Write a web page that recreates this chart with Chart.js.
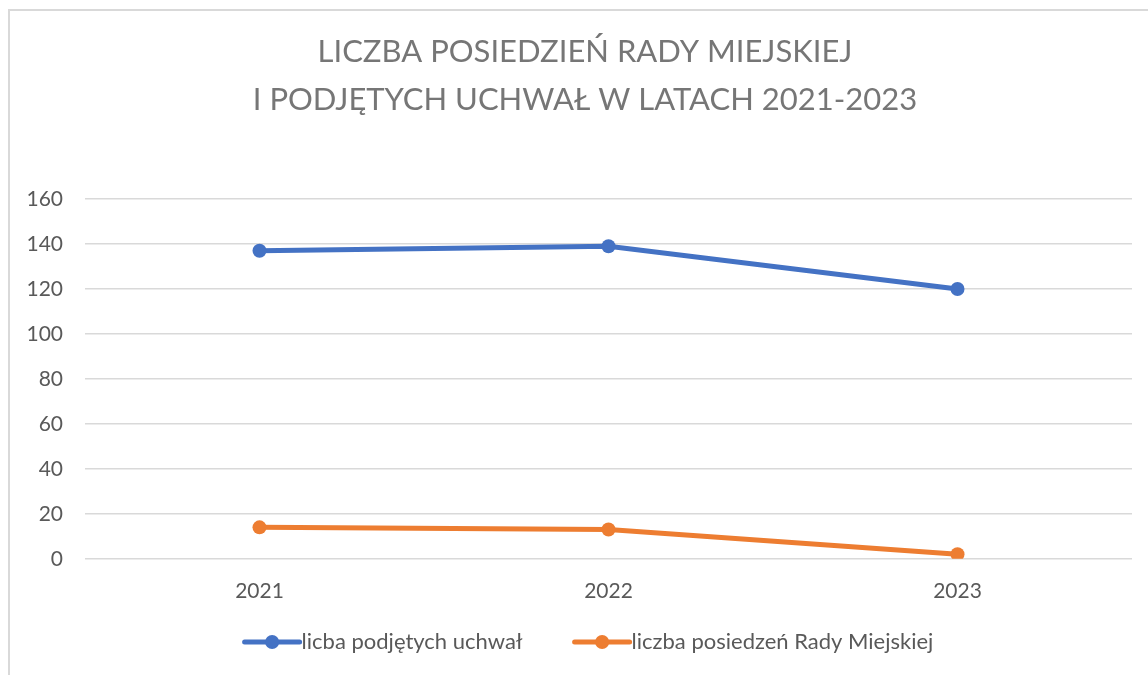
<!DOCTYPE html>
<html lang="pl">
<head>
<meta charset="utf-8">
<title>Liczba posiedzeń Rady Miejskiej</title>
<script src="https://cdn.jsdelivr.net/npm/chart.js@4/dist/chart.umd.min.js"></script>
<style>
  html, body { margin: 0; padding: 0; background: #fff; }
  #wrap { position: relative; width: 1148px; height: 675px; overflow: hidden; }
  #frame { position: absolute; left: 8px; top: 9px; width: 1200px; height: 700px;
           border-left: 2px solid #d9d9d9; border-top: 2px solid #d9d9d9; }
  #chart { position: absolute; left: 0; top: 0; }
</style>
</head>
<body>
<div id="wrap">
  <div id="frame"></div>
  <canvas id="chart" width="1148" height="675"></canvas>
</div>
<script>
// ── Data ──
const years      = ['2021', '2022', '2023'];
const uchwaly    = [137, 139, 120];   // liczba podjętych uchwał
const posiedzenia = [14, 13, 2];      // liczba posiedzeń Rady Miejskiej
const yTicks     = [0, 20, 40, 60, 80, 100, 120, 140, 160];

const titleLines = ['LICZBA POSIEDZIEŃ RADY MIEJSKIEJ', 'I PODJĘTYCH UCHWAŁ W LATACH 2021-2023'];

const BLUE   = '#4472C4';
const ORANGE = '#ED7D31';
const GRID   = '#d9d9d9';
const TEXT   = '#595959';
const FONT   = "Lato, 'Open Sans', sans-serif";

// ── Legend drawn as line + marker, like the office sample ──
const lineLegend = {
  id: 'lineLegend',
  afterLayout(chart) {
    // title is centred a little right of the canvas centre in the original
    if (chart.titleBlock) chart.titleBlock.left += 38;
  },
  afterDraw(chart) {
    const ctx = chart.ctx;
    const sets = chart.data.datasets;
    const y = 642, sample = 55, gap = 2, between = 52;
    ctx.save();
    ctx.font = `22px ${FONT}`;
    ctx.textBaseline = 'middle';
    const widths = sets.map(d => sample + gap + ctx.measureText(d.label).width);
    const total = widths.reduce((a, b) => a + b, 0) + between * (sets.length - 1);
    let x = (chart.width - total) / 2 + 15;
    sets.forEach((d, i) => {
      ctx.strokeStyle = d.borderColor;
      ctx.lineWidth = 5;
      ctx.lineCap = 'round';
      ctx.beginPath(); ctx.moveTo(x, y); ctx.lineTo(x + sample, y); ctx.stroke();
      ctx.fillStyle = d.borderColor;
      ctx.beginPath(); ctx.arc(x + sample / 2, y, 7, 0, Math.PI * 2); ctx.fill();
      ctx.fillStyle = TEXT;
      ctx.textAlign = 'left';
      ctx.fillText(d.label, x + sample + gap, y);
      x += widths[i] + between;
    });
    ctx.restore();
  }
};

new Chart(document.getElementById('chart'), {
  type: 'line',
  data: {
    labels: years,
    datasets: [
      { label: 'licba podjętych uchwał', data: uchwaly,
        borderColor: BLUE, backgroundColor: BLUE, pointBackgroundColor: BLUE,
        borderWidth: 5, pointRadius: 7, pointBorderWidth: 0, tension: 0 },
      { label: 'liczba posiedzeń Rady Miejskiej', data: posiedzenia,
        borderColor: ORANGE, backgroundColor: ORANGE, pointBackgroundColor: ORANGE,
        borderWidth: 5, pointRadius: 7, pointBorderWidth: 0, tension: 0 },
    ]
  },
  options: {
    responsive: false,
    animation: false,
    devicePixelRatio: 1,
    layout: { padding: { left: 0, right: 16, top: 0, bottom: 51 } },
    plugins: {
      legend: { display: false },
      tooltip: { enabled: false },
      title: {
        display: true,
        text: titleLines,
        color: '#767676',
        font: { family: FONT, size: 31, weight: 'normal', lineHeight: 1.55 },
        padding: { top: 28, bottom: 75 }
      }
    },
    scales: {
      x: {
        offset: true,
        grid: { display: false, drawTicks: false },
        border: { display: false },
        ticks: { color: TEXT, font: { family: FONT, size: 21 }, padding: 20 }
      },
      y: {
        min: 0, max: 160,
        afterBuildTicks: s => { s.ticks = yTicks.map(v => ({ value: v })); },
        afterFit: s => { s.width = 85; },
        grid: { color: GRID, lineWidth: 1.5, drawTicks: false },
        border: { display: false },
        ticks: { color: TEXT, font: { family: FONT, size: 21 }, padding: 22 }
      }
    }
  },
  plugins: [lineLegend]
});
</script>
</body>
</html>
